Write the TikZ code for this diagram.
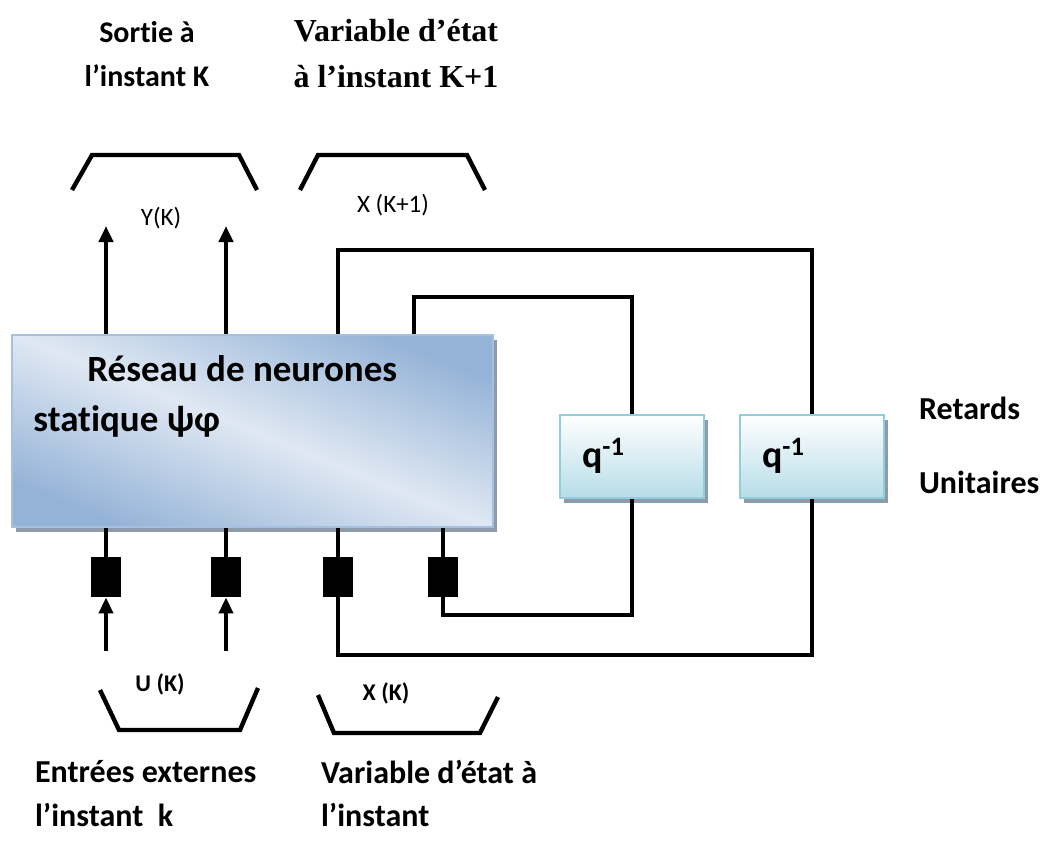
\documentclass[tikz,border=0pt]{standalone}
\usepackage{fontspec}
\setmainfont{Carlito}[Ligatures=NoCommon]
\newfontfamily\timesfont{Liberation Serif}
\usetikzlibrary{arrows.meta, shadows, calc}

\definecolor{netdark}{HTML}{95B3D7}
\definecolor{netlight}{HTML}{DFE8F3}
\definecolor{netborder}{HTML}{A7C0E0}
\definecolor{qborder}{HTML}{92CDDC}
\definecolor{qfill}{HTML}{B7DDE8}
\definecolor{shadowgray}{HTML}{8E9BAA}

\begin{document}
\begin{tikzpicture}[x=0.5pt, y=-0.5pt,
    % Define styles
    netbox/.style={rectangle, draw=netborder, line width=1pt, minimum width=240.5pt, minimum height=96pt, top color=netdark, bottom color=netdark, middle color=netlight, shading angle=-22, drop shadow={shadow xshift=2pt, shadow yshift=-2.5pt, fill=shadowgray, opacity=1}},
    delaybox/.style={rectangle, draw=qborder, line width=1pt, text width=50pt, inner xsep=11pt, minimum height=41.5pt, align=left, top color=white, bottom color=qfill, drop shadow={shadow xshift=2pt, shadow yshift=-2.5pt, fill=shadowgray, opacity=1}, font=\bfseries\fontsize{19}{22}\selectfont},
    gate/.style={rectangle, fill=black, minimum width=15pt, minimum height=20pt, inner sep=0pt},
    wire/.style={line width=2pt},
    arrow/.style={line width=2pt, -{Triangle[length=8pt, width=7pt]}},
    brace/.style={line width=2.2pt},
    title/.style={font=\bfseries\fontsize{15}{18}\selectfont, align=center},
    note/.style={font=\bfseries\fontsize{16}{19}\selectfont, anchor=west}
]
    \useasboundingbox (0,0) rectangle (1052,841);

    % 1. The static network
    \node[netbox] (net) at (252.5,431) {};
    \node[font=\bfseries\fontsize{18.5}{22}\selectfont, align=left, anchor=north west, inner sep=0pt] (nettext) at (33,355) {\hspace{27pt}Réseau de neurones\\[3pt]statique ψφ};

    % 2. The unit delays
    \node[delaybox] (d1) at (632,456) {q\textsuperscript{-1}};
    \node[delaybox] (d2) at (812,456) {q\textsuperscript{-1}};
    \node[note] (retards) at (912,408) {Retards};
    \node[note] (unitaires) at (912,482) {Unitaires};

    % 3. The input gates
    \node[gate] (in1) at (106,577) {};
    \node[gate] (in2) at (226,577) {};
    \node[gate] (st1) at (338,577) {};
    \node[gate] (st2) at (443,577) {};

    % 4. Free ends and corners
    \coordinate (y1) at (106,226);
    \coordinate (y2) at (226,226);
    \coordinate (u1) at (106,651);
    \coordinate (u2) at (226,651);
    \coordinate (fb1) at (338,250);
    \coordinate (fb2) at (414,297);
    \coordinate (fb3) at (443,615);
    \coordinate (fb4) at (338,655);

    % 5. Connections
    % Outputs Y(K)
    \draw[arrow] (net.north -| y1) -- (y1);
    \draw[arrow] (net.north -| y2) -- (y2);
    % Feedback through the delays
    \draw[wire] (net.north -| fb1) -- (fb1) -| (d2.north);
    \draw[wire] (net.north -| fb2) -- (fb2) -| (d1.north);
    \draw[wire] (d1.south) |- (fb3) -- (st2.south);
    \draw[wire] (d2.south) |- (fb4) -- (st1.south);
    % Gates into the network
    \foreach \g in {in1, in2, st1, st2}
        \draw[wire] (\g.north) -- (\g.north |- net.south);
    % External inputs U(K)
    \draw[arrow] (u1) -- (in1.south);
    \draw[arrow] (u2) -- (in2.south);

    % 6. Brackets and their labels
    \draw[brace] (72,190) -- (92,155) -- (239,155) -- (257,190);
    \draw[brace] (300,190) -- (318,155) -- (467,155) -- (485,190);
    \draw[brace] (100,690) -- (119,730) -- (240,730) -- (258,688);
    \draw[brace] (318,695) -- (334,733) -- (480,733) -- (498,697);
    \node[font=\fontsize{12.5}{14}\selectfont] (yk) at (161,218) {Y(K)};
    \node[font=\fontsize{12.5}{14}\selectfont] (xk1) at (393,205) {X (K+1)};
    \node[font=\bfseries\fontsize{12}{14}\selectfont] (uk) at (160,684) {U (K)};
    \node[font=\bfseries\fontsize{12}{14}\selectfont] (xk) at (386,693) {X (K)};

    % 7. Titles
    \node[title] (sortie) at (147,54) {Sortie à\\[4pt]l’instant K};
    \node[title, font=\timesfont\bfseries\fontsize{16}{19}\selectfont] (etatnext) at (396,54) {Variable d’état\\[4pt]à l’instant K+1};
    \node[note] (entrees) at (28,772) {Entrées externes};
    \node[note] (entreesk) at (28,815) {l’instant~~k};
    \node[note] (etat) at (314,772) {Variable d’état à};
    \node[note] (etatk) at (314,815) {l’instant};

\end{tikzpicture}
\end{document}
